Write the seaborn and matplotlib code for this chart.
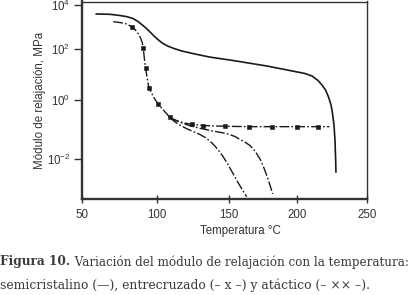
import numpy as np
import pandas as pd
import matplotlib
matplotlib.use("Agg")
import matplotlib.pyplot as plt
import seaborn as sns
from matplotlib.ticker import FixedLocator, NullLocator

# ---------------- data ----------------
# semicristalino (solid)
semi_T = [59.4, 68.7, 75.4, 80.1, 84.1, 87.5, 90.8, 93.5, 96.2, 98.9, 101.6, 104.3,
          107.8, 111.9, 117.4, 126.4, 136.7, 152.7, 177.5, 201.9, 205.5, 210.5,
          214.8, 217.6, 220.2, 222.3, 224.1, 225.1, 226.2, 226.9, 227.4, 227.6]
semi_E = [3780, 3660, 3230, 2850, 2360, 1720, 1135, 785, 518, 340, 236, 172,
          130, 102, 81, 62, 47, 34.7, 21.2, 11.8, 10.8, 8.6,
          5.75, 3.85, 2.45, 1.31, 0.68, 0.365, 0.144, 0.045, 0.0095, 0.0037]

# common glassy part of the dashed curves
comun_T = [70.9, 75.4, 79.5, 83.3, 85.5, 87.5, 89.2, 90.4, 91.0, 91.5, 92.0, 92.6,
           93.4, 94.2, 94.8, 96.5, 98.5, 101.1, 103.6, 106.4, 109.1]
comun_E = [1690, 1550, 1355, 1000, 746, 491, 306, 181, 104, 57, 30, 17.2,
           8.6, 4.6, 3.0, 1.87, 1.14, 0.72, 0.52, 0.365, 0.257]
comun_mk_T = [83.3, 91.0, 92.6, 94.8, 101.1, 109.1]
comun_mk_E = [1000, 104, 17.2, 3.0, 0.72, 0.257]

# entrecruzado (plateau)
entre_T = [109.1, 112.2, 115.9, 120.1, 124.1, 132.1, 140.2, 147.0, 165.2, 222.9]
entre_E = [0.257, 0.212, 0.184, 0.164, 0.151, 0.138, 0.133, 0.130, 0.126, 0.126]
entre_mk_T = [124.1, 132.1, 147.0, 164.7, 181.2, 199.6, 215.0]
entre_mk_E = [0.151, 0.138, 0.130, 0.126, 0.126, 0.126, 0.126]

# atáctico, branch ending near 182 °C
atac1_T = [109.1, 113.4, 117.4, 122.9, 129.8, 138.5, 148.2, 154.2, 157.9, 160.8,
           165.2, 168.9, 172.6, 175.5, 178.5, 181.9]
atac1_E = [0.257, 0.204, 0.168, 0.135, 0.111, 0.090, 0.074, 0.0587, 0.0466, 0.0398,
           0.0292, 0.0191, 0.0102, 0.0051, 0.00217, 0.00068]

# atáctico, branch ending near 163 °C
atac2_T = [109.1, 112.2, 115.6, 120.0, 125.0, 129.8, 134.0, 138.1, 142.2, 145.7,
           149.1, 152.7, 156.4, 159.7, 162.8]
atac2_E = [0.257, 0.188, 0.146, 0.112, 0.0866, 0.0686, 0.0523, 0.0355, 0.0214, 0.0124,
           0.00668, 0.00332, 0.00165, 0.00092, 0.00055]

x_ticks = [50, 100, 150, 200, 250]
x_ticklabels = ["50", "100", "150", "200", "250"]
y_ticks = [1e4, 1e2, 1e0, 1e-2]
y_ticklabels = [r"$10^{4}$", r"$10^{2}$", r"$10^{0}$", r"$10^{-2}$"]

xlabel = "Temperatura °C"
ylabel = "Módulo de relajación, MPa"
cap_bold = "Figura 10."
cap_line1 = " Variación del módulo de relajación con la temperatura:"
cap_line2 = "semicristalino (—), entrecruzado (– x –) y atáctico (– ×× –)."

# ---------------- style ----------------
sns.set_style("white")
plt.rcParams["font.family"] = ["Liberation Sans", "DejaVu Sans"]
plt.rcParams["mathtext.fontset"] = "custom"
plt.rcParams["mathtext.rm"] = "Liberation Sans"
plt.rcParams["mathtext.it"] = "Liberation Sans:italic"
plt.rcParams["mathtext.bf"] = "Liberation Sans:bold"

W, H = 412, 295
fig = plt.figure(figsize=(W / 100, H / 100), dpi=100)
L, R, T, B = 82, 367.3, 1.5, 199.3
ax = fig.add_axes([L / W, 1 - B / H, (R - L) / W, (B - T) / H])


def piecewise(kin, kout):
    kin = np.asarray(kin, float)
    kout = np.asarray(kout, float)

    def f(v):
        v = np.asarray(v, float)
        shp = v.shape
        v = np.atleast_1d(v).astype(float)
        out = np.interp(v, kin, kout)
        lo = v < kin[0]
        hi = v > kin[-1]
        s0 = (kout[1] - kout[0]) / (kin[1] - kin[0])
        s1 = (kout[-1] - kout[-2]) / (kin[-1] - kin[-2])
        out[lo] = kout[0] + (v[lo] - kin[0]) * s0
        out[hi] = kout[-1] + (v[hi] - kin[-1]) * s1
        return out.reshape(shp)
    return f


# axis scales (hand-drawn original: uneven tick spacing)
xk_in, xk_out = [50, 100, 150, 200, 250], [82, 156.7, 229.3, 297.3, 367.3]
xf = piecewise(xk_in, xk_out)
xi = piecewise(xk_out, xk_in)
yk_in, yk_out = [-2, 0, 2, 4], [-159.3, -100, -48.7, -4.7]
yf0 = piecewise(yk_in, yk_out)
yi0 = piecewise(yk_out, yk_in)


def yf(v):
    v = np.asarray(v, float)
    with np.errstate(divide="ignore", invalid="ignore"):
        lv = np.log10(np.where(v > 0, v, 1e-30))
    return yf0(lv)


def yi(v):
    return 10 ** yi0(v)


ax.set_xscale("function", functions=(xf, xi))
ax.set_yscale("function", functions=(yf, yi))

ink = "#1a1a1a"
dash = (0, (7, 1.6, 1.2, 1.6))

sns.lineplot(x=semi_T, y=semi_E, ax=ax, sort=False, estimator=None,
             color=ink, lw=1.2)
for tx, ey in [(comun_T, comun_E), (entre_T, entre_E), (atac1_T, atac1_E), (atac2_T, atac2_E)]:
    sns.lineplot(x=tx, y=ey, ax=ax, sort=False, estimator=None,
                 color=ink, lw=1.0, linestyle=dash)
sns.scatterplot(x=comun_mk_T + entre_mk_T, y=comun_mk_E + entre_mk_E, ax=ax,
                marker="s", s=6, color=ink, edgecolor=ink, linewidth=0.4, zorder=5)

ax.set_xlim(50, 250)
ax.set_ylim(yi(-B), yi(-T))

ax.xaxis.set_major_locator(FixedLocator(x_ticks))
ax.xaxis.set_minor_locator(NullLocator())
ax.set_xticklabels(x_ticklabels)
ax.yaxis.set_major_locator(FixedLocator(y_ticks))
ax.yaxis.set_minor_locator(NullLocator())
ax.set_yticklabels(y_ticklabels)

tc = "#333333"
ax.tick_params(axis="x", direction="inout", length=6, width=1.0, color=tc,
               labelsize=8.3, labelcolor=tc, pad=4)
ax.tick_params(axis="y", direction="out", length=5.5, width=1.0, color=tc,
               labelsize=8.3, labelcolor=tc, pad=3)
ax.tick_params(bottom=True, left=True, top=False, right=False)

for side, lw in [("left", 1.7), ("bottom", 1.7), ("top", 1.0), ("right", 1.0)]:
    ax.spines[side].set_visible(True)
    ax.spines[side].set_color(tc)
    ax.spines[side].set_linewidth(lw)

ax.set_xlabel("")
ax.set_ylabel("")
fig.text(240 / W, 1 - 231 / H, xlabel, ha="center", va="center", fontsize=8.3, color=tc)
fig.text(40 / W, 1 - 100 / H, ylabel, ha="center", va="center", rotation=90,
         fontsize=8.3, color=tc)

# caption
capc = "#3a3a3a"
t1 = fig.text(0.5 / W, 1 - 262 / H, cap_bold, ha="left", va="center",
              fontsize=8.7, family="DejaVu Serif", weight="bold", color=capc)
fig.canvas.draw()
bb = t1.get_window_extent()
fig.text(bb.x1 / W, 1 - 262 / H, cap_line1, ha="left", va="center",
         fontsize=8.55, family="DejaVu Serif", color=capc)
fig.text(0.5 / W, 1 - 285 / H, cap_line2, ha="left", va="center",
         fontsize=8.9, family="DejaVu Serif", color=capc)

fig.savefig("out.png", dpi=100)
